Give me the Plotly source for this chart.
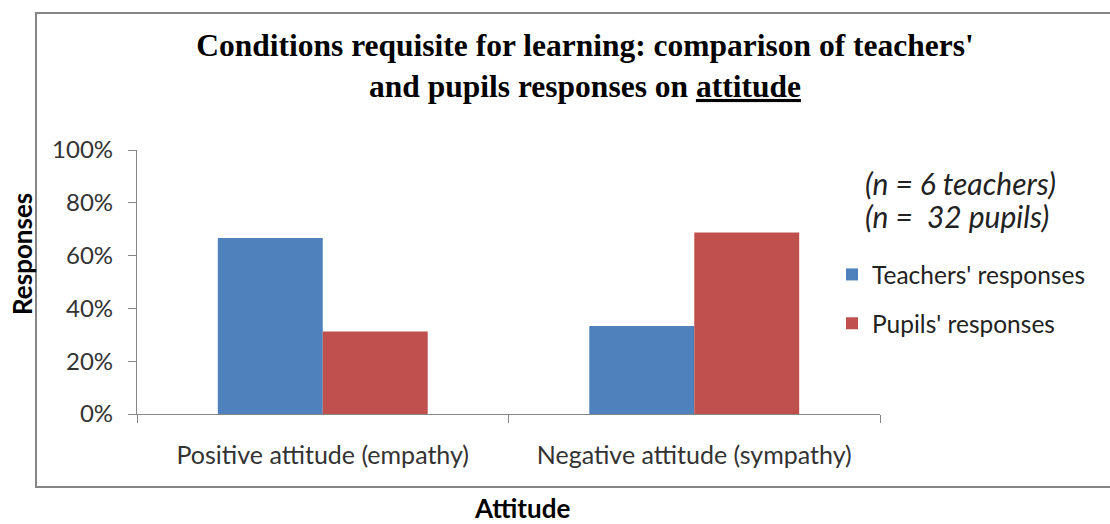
import plotly.graph_objects as go

categories = ["Positive attitude (empathy)", "Negative attitude (sympathy)"]
teachers = [0.667, 0.333]
pupils = [0.3125, 0.6875]
series_names = ["Teachers' responses", "Pupils' responses"]
colors = ["#4F81BD", "#C0504D"]
ytick_vals = [0, 0.2, 0.4, 0.6, 0.8, 1.0]
ytick_text = ["0%", "20%", "40%", "60%", "80%", "100%"]

FONT = "Lato"
L, R, T, B = 137, 230, 150, 110
W, H = 1110, 524
pw = W - L - R
ph = H - T - B

fig = go.Figure()
for i, (name, vals) in enumerate(zip(series_names, [teachers, pupils])):
    fig.add_trace(go.Bar(x=categories, y=vals, name=name, marker_color=colors[i],
                         marker_line_width=0, legendgroup=str(i)))

def px_x(p):
    return (p - L) / pw

def px_y(p):
    return (H - B - p) / ph

fig.update_layout(
    width=W, height=H,
    margin=dict(l=L, r=R, t=T, b=B, autoexpand=False),
    paper_bgcolor="white", plot_bgcolor="white",
    barmode="group", bargap=0.435, bargroupgap=0,
    showlegend=True,
    legend=dict(x=px_x(832), y=px_y(252), xanchor="left", yanchor="top",
                font=dict(family=FONT, size=24.5, color="#222"),
                traceorder="grouped", tracegroupgap=14, bgcolor="rgba(0,0,0,0)",
                itemsizing="constant"),
    title=dict(text="<b>Conditions requisite for learning: comparison of teachers'<br>and pupils responses on <span style='text-decoration:underline'>attitude</span></b>",
               xref="container", x=585 / W, xanchor="center", y=1 - 56 / H, yanchor="middle",
               font=dict(family="Liberation Serif", size=31.5, color="black")),
    xaxis=dict(showline=True, linecolor="#868686", linewidth=1.3,
               ticks="outside", tickson="boundaries", ticklen=8, tickcolor="#868686",
               tickfont=dict(family=FONT, size=25, color="#333"),
               ticklabelstandoff=19, automargin=False,
               showgrid=False, zeroline=False),
    yaxis=dict(range=[0, 1.0], tickvals=ytick_vals, ticktext=ytick_text,
               showline=True, linecolor="#868686", linewidth=1.3,
               ticks="outside", ticklen=8, tickcolor="#868686",
               tickfont=dict(family=FONT, size=24, color="#333"),
               ticklabelstandoff=10, automargin=False,
               showgrid=False, zeroline=False),
    shapes=[dict(type="rect", xref="paper", yref="paper",
                 x0=px_x(36), x1=px_x(1113), y0=px_y(487), y1=px_y(13),
                 line=dict(color="#868686", width=2), fillcolor="rgba(0,0,0,0)", layer="below")],
    annotations=[
        dict(text="<b>Attitude</b>", xref="paper", yref="paper",
             x=px_x(522), y=px_y(508), xanchor="center", yanchor="middle", showarrow=False,
             font=dict(family=FONT, size=26, color="black")),
        dict(text="<b>Responses</b>", xref="paper", yref="paper", textangle=-90,
             x=px_x(22), y=px_y(254), xanchor="center", yanchor="middle", showarrow=False,
             font=dict(family=FONT, size=26, color="black")),
        dict(text="<i>(n = 6 teachers)</i>", xref="paper", yref="paper",
             x=px_x(863), y=px_y(183), xanchor="left", yanchor="middle", showarrow=False,
             font=dict(family=FONT, size=30, color="#222")),
        dict(text="<i>(n =  32 pupils)</i>", xref="paper", yref="paper",
             x=px_x(863), y=px_y(216), xanchor="left", yanchor="middle", showarrow=False,
             font=dict(family=FONT, size=30, color="#222")),
    ],
)

fig.write_html("out.html", config={"displayModeBar": False},
               post_script="document.body.style.margin='0';")
